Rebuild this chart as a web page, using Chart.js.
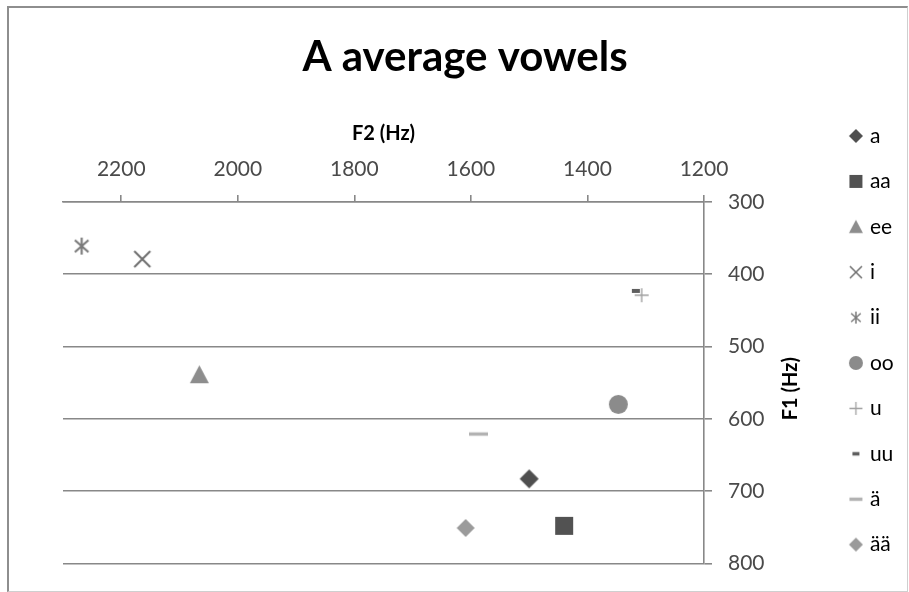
<!DOCTYPE html>
<html>
<head>
<meta charset="utf-8">
<title>A average vowels</title>
<script src="https://cdn.jsdelivr.net/npm/chart.js@4.4.1/dist/chart.umd.min.js"></script>
<style>
  html, body { margin: 0; padding: 0; background: #ffffff; }
  #wrap { position: relative; width: 909px; height: 592px; overflow: hidden; }
  #chart { position: absolute; left: 0; top: 0; }
  #frame {
    position: absolute; left: 7px; top: 6px; width: 898px; height: 583px;
    border-top: 2px solid #8e8e8e; border-left: 2px solid #8e8e8e;
    border-right: 1px solid #cfcfcf; border-bottom: 1px solid #cfcfcf;
    pointer-events: none;
  }
</style>
</head>
<body>
<div id="wrap">
  <canvas id="chart" width="909" height="592"></canvas>
  <div id="frame"></div>
</div>
<script>
// Average formant values per vowel (Hz)
const vowels = ['a', 'aa', 'ee', 'i', 'ii', 'oo', 'u', 'uu', 'ä', 'ää'];
const f2Hz   = [1500, 1440, 2066, 2164, 2268, 1347, 1307, 1317, 1587, 1609];
const f1Hz   = [683, 748, 539, 379, 361, 580, 429, 423, 621, 751];

// Axis ranges and tick steps
const f2Range = [1200, 2300];
const f2Step = 200;
const f1Range = [300, 800];
const f1Step = 100;

// Marker look for each vowel
const markerShapes = ['diamond', 'square', 'triangle', 'x', 'asterisk', 'circle', 'plus', 'shortDash', 'longDash', 'diamond'];
const markerColors = ['#4f4f4f', '#525252', '#8d8d8d', '#6e6e6e', '#7a7a7a', '#8b8b8b', '#a0a0a0', '#5e5e5e', '#b2b2b2', '#9b9b9b'];
const plotSizes    = [19, 18, 19, 16, 17, 19, 14, 8, 19, 18];
const legendSizes  = [14, 13, 14, 12, 12, 14, 13, 7, 13, 14];

const FONT = 'Lato, "Open Sans", "Liberation Sans", sans-serif';
const GRID = '#888888';

function makeMarker(shape, s, color) {
  const c = document.createElement('canvas');
  const w = Math.ceil(s) + 4;
  c.width = w; c.height = w;
  const g = c.getContext('2d');
  const m = w / 2, r = s / 2;
  g.fillStyle = color;
  g.strokeStyle = color;
  g.beginPath();
  switch (shape) {
    case 'diamond':
      g.moveTo(m, m - r); g.lineTo(m + r, m); g.lineTo(m, m + r); g.lineTo(m - r, m);
      g.closePath(); g.fill();
      break;
    case 'square':
      g.fillRect(m - r, m - r, s, s);
      break;
    case 'triangle':
      g.moveTo(m, m - r); g.lineTo(m + r, m + r * 0.9); g.lineTo(m - r, m + r * 0.9);
      g.closePath(); g.fill();
      break;
    case 'circle':
      g.arc(m, m, r, 0, Math.PI * 2); g.fill();
      break;
    case 'x':
      g.lineWidth = Math.max(1.4, s / 8);
      g.moveTo(m - r, m - r); g.lineTo(m + r, m + r);
      g.moveTo(m + r, m - r); g.lineTo(m - r, m + r);
      g.stroke();
      break;
    case 'asterisk':
      g.lineWidth = Math.max(1.4, s / 8);
      g.moveTo(m - r * 0.8, m - r * 0.7); g.lineTo(m + r * 0.8, m + r * 0.7);
      g.moveTo(m + r * 0.8, m - r * 0.7); g.lineTo(m - r * 0.8, m + r * 0.7);
      g.moveTo(m, m - r); g.lineTo(m, m + r);
      g.stroke();
      break;
    case 'plus':
      g.lineWidth = Math.max(1.3, s / 10);
      g.moveTo(m - r, m); g.lineTo(m + r, m);
      g.moveTo(m, m - r); g.lineTo(m, m + r);
      g.stroke();
      break;
    case 'shortDash':
      g.fillRect(m - r, m - s * 0.25, s, s * 0.5);
      break;
    case 'longDash':
      g.fillRect(m - r, m - 1.7, s, 3.4);
      break;
  }
  return c;
}

const plotMarkers = vowels.map((v, i) => makeMarker(markerShapes[i], plotSizes[i], markerColors[i]));
const legendMarkers = vowels.map((v, i) => makeMarker(markerShapes[i], legendSizes[i], markerColors[i]));

const datasets = vowels.map((v, i) => ({
  label: v,
  data: [{ x: f2Hz[i], y: f1Hz[i] }],
  pointStyle: plotMarkers[i],
  pointRadius: 10,
  pointHoverRadius: 10,
  showLine: false,
  clip: false
}));

// Legend sits beside the plot, first row level with the upper ticks
const LEGEND_FONT = 21;
const LEGEND_GAP = 24.4;
const LEGEND_FIRST_Y = 136;
const LEGEND_LEFT = 828;

const legendPlacement = {
  id: 'legendPlacement',
  afterLayout(chart) {
    const lg = chart.legend;
    if (!lg || !lg.columnSizes || !lg.columnSizes.length) return;
    const colH = lg.columnSizes[0].height;
    lg.left = LEGEND_LEFT;
    lg.right = chart.width;
    lg.bottom = chart.height;
    lg.top = 2 * (LEGEND_FIRST_Y - LEGEND_FONT / 2) - LEGEND_GAP - lg.bottom + colH;
  }
};

// F1 axis title, reading upward, between the tick labels and the legend
const f1Title = {
  id: 'f1Title',
  afterDraw(chart) {
    const s = chart.scales.y;
    const a = chart.chartArea;
    const ctx = chart.ctx;
    ctx.save();
    ctx.translate(s.left + 87, (a.top + a.bottom) / 2 + 6);
    ctx.rotate(-Math.PI / 2);
    ctx.font = 'bold 20px ' + FONT;
    ctx.fillStyle = '#000000';
    ctx.textAlign = 'center';
    ctx.textBaseline = 'middle';
    ctx.fillText('F1 (Hz)', 0, 0);
    ctx.restore();
  }
};

const plainNumber = (value) => String(value);

new Chart(document.getElementById('chart'), {
  type: 'scatter',
  data: { datasets },
  options: {
    responsive: false,
    animation: false,
    events: [],
    layout: { padding: { left: 63, right: 42, top: 0, bottom: 26 } },
    scales: {
      x: {
        type: 'linear',
        position: 'top',
        reverse: true,
        min: f2Range[0],
        max: f2Range[1],
        grid: { drawOnChartArea: false, drawTicks: true, tickLength: 7, color: GRID, lineWidth: 1.6 },
        border: { display: true, color: GRID, width: 1.6 },
        ticks: {
          stepSize: f2Step, includeBounds: false, maxRotation: 0, autoSkip: false,
          padding: 13.4, color: '#4a4a4a',
          font: { family: FONT, size: 21, lineHeight: 1.2 },
          callback: plainNumber
        },
        title: {
          display: true, text: 'F2 (Hz)', color: '#000000',
          font: { family: FONT, size: 20, weight: 'bold', lineHeight: 1.2 },
          padding: { top: 3, bottom: -3 }
        }
      },
      y: {
        type: 'linear',
        position: 'right',
        reverse: true,
        min: f1Range[0],
        max: f1Range[1],
        grid: { drawOnChartArea: true, drawTicks: true, tickLength: 8, color: GRID, lineWidth: 1.6 },
        border: { display: true, color: GRID, width: 1.6 },
        ticks: {
          stepSize: f1Step, padding: 16, color: '#4a4a4a',
          font: { family: FONT, size: 21, lineHeight: 1.2 },
          callback: plainNumber
        },
        afterFit(scale) { scale.width = 103; }
      }
    },
    plugins: {
      title: {
        display: true,
        text: 'A average vowels',
        color: '#000000',
        font: { family: FONT, size: 42, weight: 'bold', lineHeight: 1.2 },
        padding: { top: 31.8, bottom: 36.8 }
      },
      legend: {
        display: true,
        position: 'right',
        maxWidth: 60,
        labels: {
          usePointStyle: true,
          boxWidth: 7,
          boxHeight: 10,
          padding: LEGEND_GAP,
          color: '#404040',
          font: { family: FONT, size: LEGEND_FONT, lineHeight: 1.2 },
          generateLabels(chart) {
            return chart.data.datasets.map((ds, i) => ({
              text: ds.label,
              pointStyle: legendMarkers[i],
              fillStyle: markerColors[i],
              strokeStyle: markerColors[i],
              lineWidth: 0,
              hidden: false,
              datasetIndex: i
            }));
          }
        }
      },
      tooltip: { enabled: false }
    }
  },
  plugins: [legendPlacement, f1Title]
});
</script>
</body>
</html>
